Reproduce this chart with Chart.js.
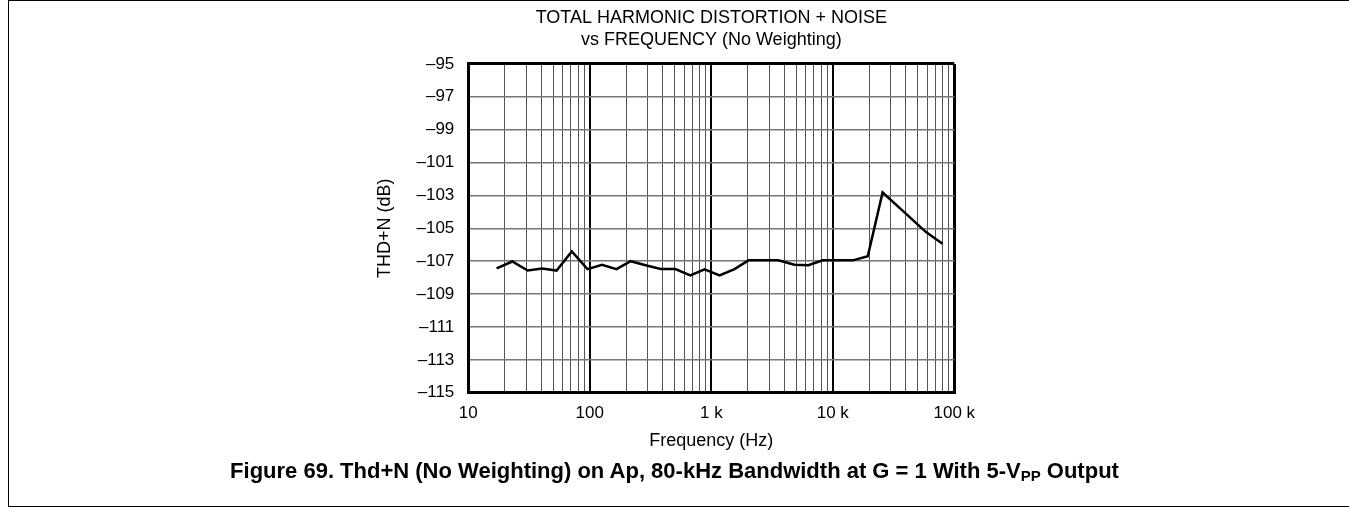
<!DOCTYPE html>
<html>
<head>
<meta charset="utf-8">
<script src="https://cdn.jsdelivr.net/npm/chart.js@4.4.1/dist/chart.umd.min.js"></script>
<style>
  html, body { margin: 0; padding: 0; background: #fff; }
  #wrap { position: relative; width: 1349px; height: 507px; }
  #frame {
    position: absolute; left: 8px; top: 0; width: 1341px; height: 507px;
    border-left: 1.5px solid #000; border-top: 1.5px solid #000; border-bottom: 1.5px solid #000;
    box-sizing: border-box;
  }
  #thdChart { position: absolute; left: 0; top: 0; }
  #caption {
    position: absolute; left: 0; width: 1349px; top: 458px; text-align: center;
    font-family: 'Liberation Sans', Arial, sans-serif; font-weight: bold; font-size: 22px; color: #000;
  }
  #caption sub { font-size: 15px; vertical-align: -3px; }
</style>
</head>
<body>
<div id="wrap">
  <div id="frame"></div>
  <canvas id="thdChart" width="1349" height="507"></canvas>
  <div id="caption">Figure 69. Thd+N (No Weighting) on Ap, 80-kHz Bandwidth at G = 1 With 5-V<sub>PP</sub> Output</div>
</div>
<script>
const thdCanvas = document.getElementById('thdChart');

// frequency sweep (Hz) and THD+N (dB)
const freqs = [
  17.1, 23.0, 30.8, 40.6, 53.3, 71.1, 95.7, 126, 166, 217, 288, 383, 506, 672, 881,
  1170, 1552, 2024, 2687, 3567, 4826, 6300, 8260, 11010, 14620, 19400, 25700, 33800, 44500, 58500, 80000
];
const thdN = [
  -107.44, -107.02, -107.57, -107.44, -107.57, -106.41, -107.48, -107.22, -107.48, -107.0, -107.25, -107.48, -107.48, -107.87, -107.5,
  -107.87, -107.48, -106.95, -106.95, -106.95, -107.22, -107.25, -106.95, -106.95, -106.95, -106.7, -102.82, -103.62, -104.43, -105.23, -105.94
];

const decadeLabels = { 10: '10', 100: '100', 1000: '1 k', 10000: '10 k', 100000: '100 k' };
const xGridValues = [];
[10, 100, 1000, 10000].forEach(d => {
  for (let m = 1; m < 10; m++) xGridValues.push(d * m);
});
xGridValues.push(100000);
const yTickValues = [-115, -113, -111, -109, -107, -105, -103, -101, -99, -97, -95];

const font = 'Liberation Sans';

const chart = new Chart(thdCanvas, {
  type: 'scatter',
  data: {
    datasets: [{
      data: freqs.map((f, i) => ({ x: f, y: thdN[i] })),
      showLine: true,
      borderColor: '#000',
      borderWidth: 2.5,
      pointRadius: 0,
      tension: 0
    }]
  },
  options: {
    responsive: false,
    animation: false,
    layout: { padding: { left: 368.3, right: 394.7, top: 0, bottom: 54.3 } },
    plugins: {
      legend: { display: false },
      tooltip: { enabled: false },
      title: {
        display: true,
        fullSize: false, // centre over the plot, not the canvas
        text: ['TOTAL HARMONIC DISTORTION + NOISE', 'vs FREQUENCY (No Weighting)'],
        color: '#000',
        font: { family: font, size: 18, weight: 'normal', lineHeight: 1.22 },
        padding: { top: 7, bottom: 13 }
      }
    },
    scales: {
      x: {
        type: 'logarithmic',
        min: 10,
        max: 100000,
        afterBuildTicks: axis => { axis.ticks = xGridValues.map(v => ({ value: v })); },
        afterFit: axis => { axis.height = 60; },
        ticks: {
          autoSkip: false,
          maxRotation: 0,
          padding: 10,
          color: '#000',
          font: { family: font, size: 17 },
          callback: v => decadeLabels[v] || ''
        },
        grid: {
          drawTicks: false,
          color: ctx => (decadeLabels[ctx.tick.value] ? '#000' : '#555'),
          lineWidth: ctx => {
            const v = ctx.tick.value;
            if (v === 10 || v === 100000) return 3;
            return decadeLabels[v] ? 2 : 1;
          }
        },
        border: { display: true, color: '#000', width: 3 },
        title: {
          display: true,
          text: 'Frequency (Hz)',
          color: '#000',
          font: { family: font, size: 18, lineHeight: 1.2 },
          padding: { top: 0, bottom: 1 }
        }
      },
      y: {
        min: -115,
        max: -95,
        afterBuildTicks: axis => { axis.ticks = yTickValues.map(v => ({ value: v })); },
        afterFit: axis => { axis.width = 100; },
        ticks: {
          padding: 14,
          color: '#000',
          font: { family: font, size: 17 },
          callback: v => '\u2013' + Math.abs(v)
        },
        grid: {
          drawTicks: false,
          color: ctx => (ctx.tick.value === -95 || ctx.tick.value === -115 ? '#000' : '#777'),
          lineWidth: ctx => (ctx.tick.value === -95 || ctx.tick.value === -115 ? 3 : 1.5)
        },
        border: { display: true, color: '#000', width: 3 },
        title: {
          display: true,
          text: 'THD+N (dB)',
          color: '#000',
          font: { family: font, size: 18, lineHeight: 1.2 },
          padding: { top: 6, bottom: 0 }
        }
      }
    }
  }
});
</script>
</body>
</html>
